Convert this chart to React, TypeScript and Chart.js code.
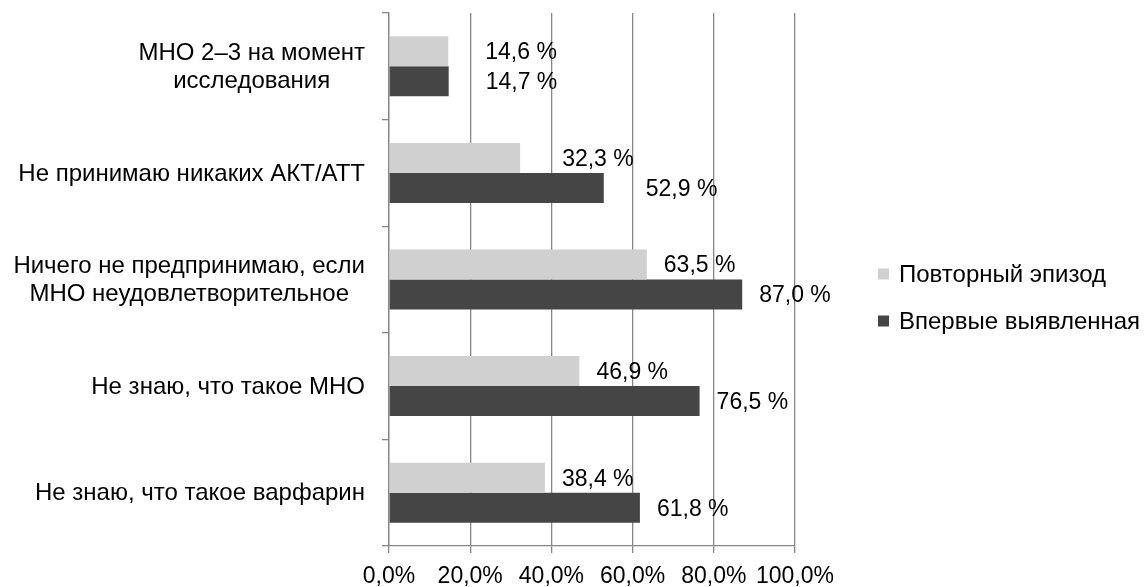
import React, { useEffect, useRef } from "react";
import { Chart, registerables } from "chart.js";

Chart.register(...registerables);

const categories: string[][] = [
  ["МНО 2–3 на момент", "исследования"],
  ["Не принимаю никаких АКТ/АТТ"],
  ["Ничего не предпринимаю, если", "МНО неудовлетворительное"],
  ["Не знаю, что такое МНО"],
  ["Не знаю, что такое варфарин"],
];
const seriesNames = ["Повторный эпизод", "Впервые выявленная"];
const repeatEpisode = [14.6, 32.3, 63.5, 46.9, 38.4];
const firstDetected = [14.7, 52.9, 87.0, 76.5, 61.8];
const xTicks = [0, 20, 40, 60, 80, 100];

// styling: extra horizontal nudge of value labels per category (px)
const labelExtraOffset = [20, 25, 0, 0, 0];

const FONT = '"Liberation Sans", Arial, Helvetica, sans-serif';
const GRID = "#868686";
const COLORS = ["#d0d0d0", "#454545"];

const fmt = (v: number) => v.toFixed(1).replace(".", ",");

export default function App() {
  const ref = useRef<HTMLCanvasElement | null>(null);

  useEffect(() => {
    const canvas = ref.current;
    if (!canvas) return;

    const valueLabels = {
      id: "valueLabels",
      afterDatasetsDraw(chart: any) {
        const ctx = chart.ctx;
        ctx.save();
        ctx.font = `23px ${FONT}`;
        ctx.fillStyle = "#000";
        ctx.textAlign = "left";
        ctx.textBaseline = "middle";
        chart.data.datasets.forEach((ds: any, di: number) => {
          const meta = chart.getDatasetMeta(di);
          meta.data.forEach((bar: any, i: number) => {
            const v = ds.data[i] as number;
            ctx.fillText(fmt(v) + " %", bar.x + 17 + labelExtraOffset[i], bar.y + 1.5);
          });
        });
        ctx.restore();
      },
    };

    const yLabels = {
      id: "yLabels",
      afterDraw(chart: any) {
        const ctx = chart.ctx;
        const ys = chart.scales.y;
        ctx.save();
        ctx.font = `24px ${FONT}`;
        ctx.fillStyle = "#000";
        ctx.textAlign = "center";
        ctx.textBaseline = "middle";
        const right = chart.chartArea.left - 24;
        const lh = 28;
        categories.forEach((lines, i) => {
          const cy = ys.getPixelForTick(i);
          const maxW = Math.max(...lines.map((l) => ctx.measureText(l).width));
          const cx = right - maxW / 2;
          const y0 = cy - ((lines.length - 1) * lh) / 2;
          lines.forEach((l, k) => ctx.fillText(l, cx, y0 + k * lh + 1));
        });
        ctx.restore();
      },
    };

    const legendPlugin = {
      id: "customLegend",
      afterDraw(chart: any) {
        const ctx = chart.ctx;
        const x = chart.chartArea.right + 83;
        const y0 = 274;
        const gap = 47;
        ctx.save();
        ctx.font = `24px ${FONT}`;
        ctx.textAlign = "left";
        ctx.textBaseline = "middle";
        seriesNames.forEach((name, i) => {
          const y = y0 + i * gap;
          ctx.fillStyle = COLORS[i];
          ctx.fillRect(x, y - 5.5, 11, 11);
          ctx.fillStyle = "#000";
          ctx.fillText(name, x + 21, y + 1);
        });
        ctx.restore();
      },
    };

    const chart = new Chart(canvas, {
      type: "bar",
      data: {
        labels: categories.map((c) => c.join(" ")),
        datasets: [
          {
            label: seriesNames[0],
            data: repeatEpisode,
            backgroundColor: COLORS[0],
            categoryPercentage: 0.563,
            barPercentage: 1,
          },
          {
            label: seriesNames[1],
            data: firstDetected,
            backgroundColor: COLORS[1],
            categoryPercentage: 0.563,
            barPercentage: 1,
          },
        ],
      },
      options: {
        indexAxis: "y",
        animation: false,
        responsive: false,
        devicePixelRatio: 1,
        layout: { padding: { top: 13, right: 349, left: 0, bottom: 0 } },
        plugins: {
          legend: { display: false },
          tooltip: { enabled: false },
        },
        scales: {
          x: {
            min: 0,
            max: 100,
            afterBuildTicks(scale: any) {
              scale.ticks = xTicks.map((v) => ({ value: v }));
            },
            afterFit(scale: any) {
              scale.height = 41;
            },
            ticks: {
              callback: (v: any) => fmt(Number(v)) + "%",
              font: { family: FONT, size: 23 },
              color: "#000",
              padding: 10,
              maxRotation: 0,
              autoSkip: false,
            },
            grid: {
              color: GRID,
              lineWidth: 1.3,
              tickLength: 7,
              drawTicks: true,
            },
            border: { color: GRID, width: 1.3 },
          },
          y: {
            afterFit(scale: any) {
              scale.width = 389;
            },
            ticks: {
              callback: () => "",
            },
            grid: {
              display: true,
              drawOnChartArea: false,
              drawTicks: true,
              tickLength: 7,
              offset: true,
              color: GRID,
              lineWidth: 1.3,
            },
            border: { color: GRID, width: 1.3 },
          },
        },
      },
      plugins: [valueLabels, yLabels, legendPlugin],
    } as any);

    return () => chart.destroy();
  }, []);

  return (
    <div style={{ position: "fixed", left: 0, top: 0, width: 1144, height: 587, background: "#fff" }}>
      <canvas ref={ref} width={1144} height={587} style={{ display: "block" }} />
    </div>
  );
}
